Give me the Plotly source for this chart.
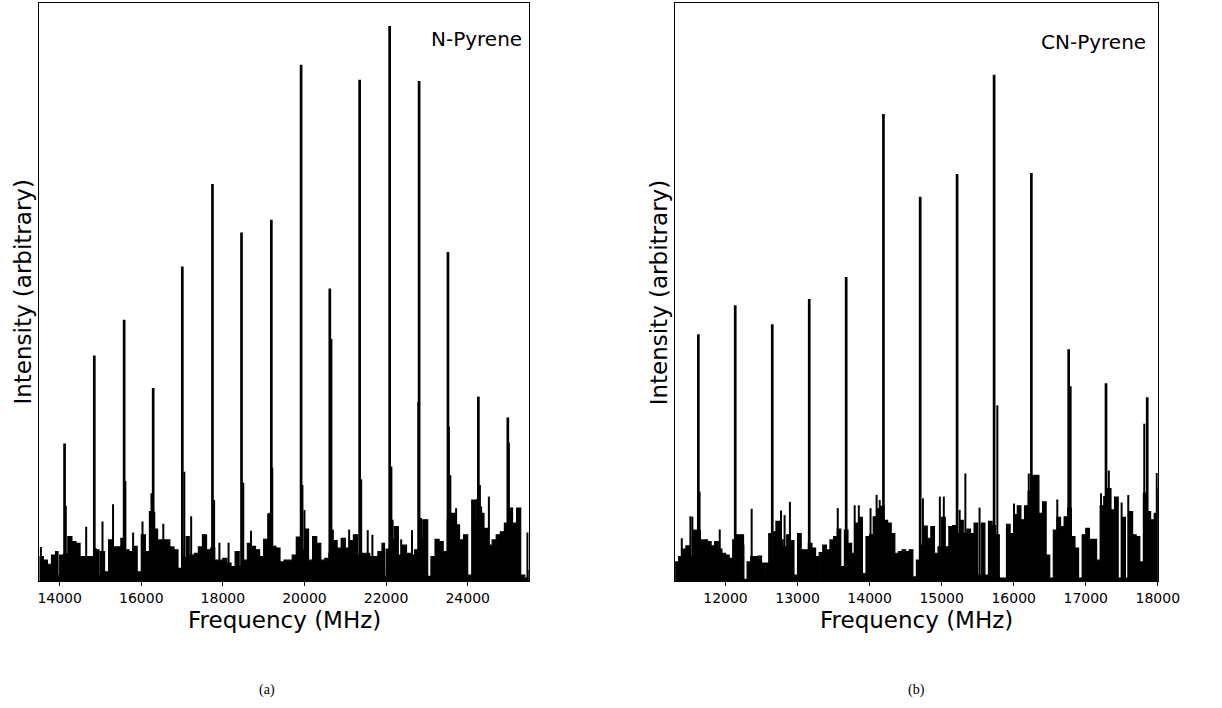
import plotly.graph_objects as go

# ---------------- N-Pyrene (panel a) ----------------
# strong rotational lines: frequency (MHz), intensity (% of axis height)
n_line_freq = [14120, 14849, 15580, 16292, 17006, 17745, 18457, 19188,
               19917, 20621, 21352, 22088, 22810, 23517, 24262, 24984]
n_line_int = [23.8, 39.0, 45.2, 33.4, 54.4, 68.7, 60.3, 62.5,
              89.3, 50.6, 86.7, 96.0, 86.5, 56.9, 31.9, 28.3]

# weaker lines and shoulders
n_minor_freq = [13540, 14150, 14650, 14880, 15050, 15308, 15610, 15800, 16030, 16250,
                16320, 16540, 17055, 17223, 17785, 17915, 18140, 18500, 18690, 19110,
                19150, 19211, 19950, 20000, 20660, 20695, 21095, 21390, 21550, 21665,
                22130, 22160, 22370, 22635, 22790, 22858, 23540, 23575, 23717, 24230,
                24300, 24330, 24520, 25010, 25225, 25465]
n_minor_int = [5.9, 13.0, 9.4, 5.7, 10.3, 13.3, 17.3, 8.4, 10.3, 15.2,
               12.0, 9.9, 18.9, 11.2, 14.0, 6.6, 6.6, 17.0, 8.7, 11.7,
               11.8, 19.6, 16.6, 12.3, 41.9, 8.9, 8.9, 17.6, 8.8, 8.0,
               19.8, 10.6, 7.2, 8.8, 31.0, 10.9, 26.7, 18.3, 12.6, 14.2,
               16.6, 12.9, 14.6, 23.9, 12.6, 8.4]

# dense background of unresolved transitions
n_bg_freq = [13500, 13600, 13700, 13800, 13900, 13960, 14000, 14100, 14200, 14300,
             14400, 14500, 14600, 14700, 14800, 14900, 14965, 15000, 15100, 15200,
             15300, 15400, 15500, 15600, 15700, 15800, 15900, 16000, 16100, 16200,
             16300, 16400, 16500, 16600, 16700, 16800, 16900, 17000, 17100, 17175,
             17200, 17300, 17400, 17500, 17600, 17700, 17800, 17900, 18000, 18100,
             18200, 18300, 18400, 18500, 18600, 18700, 18800, 18900, 19000, 19100,
             19200, 19300, 19400, 19500, 19600, 19700, 19800, 19900, 20000, 20100,
             20200, 20300, 20400, 20500, 20600, 20700, 20800, 20900, 21000, 21100,
             21200, 21300, 21400, 21500, 21600, 21700, 21800, 21900, 21960, 22000,
             22100, 22200, 22300, 22400, 22500, 22600, 22700, 22800, 22900, 23020,
             23100, 23200, 23300, 23400, 23500, 23600, 23700, 23800, 23900, 24000,
             24100, 24200, 24300, 24400, 24500, 24600, 24700, 24800, 24900, 25000,
             25100, 25200, 25300, 25400, 25500]
n_bg_int = [4.2, 3.6, 2.9, 4.5, 5.1, 1.0, 4.5, 4.7, 7.7, 6.8,
            6.5, 4.2, 4.2, 4.2, 4.2, 5.4, 1.0, 5.1, 1.6, 7.1,
            5.9, 5.9, 7.4, 5.4, 5.1, 6.0, 1.6, 8.0, 5.1, 12.0,
            9.0, 7.1, 7.1, 7.1, 5.9, 5.4, 2.2, 4.0, 7.7, 0.8,
            4.5, 4.8, 5.9, 8.0, 5.4, 5.7, 3.6, 3.6, 3.9, 3.1,
            2.5, 5.1, 2.6, 3.6, 6.5, 6.0, 5.4, 4.2, 7.2, 7.0,
            6.0, 5.7, 3.3, 3.6, 3.6, 4.5, 7.6, 5.4, 9.0, 3.6,
            7.7, 6.5, 3.6, 3.9, 4.8, 7.0, 5.7, 7.4, 5.7, 7.0,
            8.0, 4.5, 4.8, 4.8, 4.2, 4.2, 5.1, 6.5, 0.8, 5.5,
            7.1, 9.4, 4.5, 6.2, 4.8, 4.5, 5.4, 7.1, 10.6, 0.8,
            4.2, 7.2, 6.8, 5.1, 10.6, 11.7, 9.7, 7.1, 8.0, 1.0,
            14.0, 10.6, 11.7, 9.1, 6.2, 7.1, 8.0, 8.5, 10.0, 12.6,
            10.0, 12.6, 1.0, 0.5, 1.9]

# ---------------- CN-Pyrene (panel b) ----------------
cn_line_freq = [11623, 12135, 12649, 13162, 13675, 14192, 14702, 15214,
                15728, 16245, 16763, 17281, 17853]
cn_line_int = [42.7, 47.7, 44.4, 48.8, 52.6, 80.8, 66.5, 70.4,
               87.6, 70.6, 40.1, 34.2, 31.8]

cn_minor_freq = [11393, 11513, 11540, 11640, 11920, 12363, 12770, 12820, 12894, 13558,
                 13793, 13850, 14013, 14097, 14140, 14740, 14975, 15030, 15250, 15329,
                 15526, 15773, 16004, 16209, 16280, 16605, 16790, 17212, 17320, 17498,
                 17590, 17812, 17986]
cn_minor_int = [7.4, 11.2, 11.1, 15.5, 8.9, 12.5, 12.2, 11.4, 13.7, 12.6,
                13.1, 13.1, 12.6, 14.9, 14.0, 14.3, 14.6, 14.6, 12.3, 18.6,
                12.7, 30.4, 13.4, 18.6, 18.0, 14.1, 33.7, 15.2, 19.1, 13.6,
                14.9, 27.2, 18.7]

cn_bg_freq = [11300, 11350, 11400, 11450, 11500, 11550, 11600, 11650, 11700, 11750,
              11800, 11850, 11900, 11950, 12000, 12050, 12100, 12150, 12200, 12250,
              12255, 12300, 12350, 12400, 12450, 12500, 12540, 12550, 12600, 12650,
              12700, 12750, 12800, 12850, 12900, 12950, 13000, 13050, 13100, 13150,
              13200, 13250, 13287, 13300, 13350, 13400, 13450, 13500, 13550, 13600,
              13650, 13700, 13750, 13800, 13850, 13900, 13950, 14000, 14050, 14100,
              14150, 14200, 14250, 14300, 14350, 14400, 14450, 14500, 14550, 14600,
              14650, 14700, 14750, 14800, 14850, 14900, 14950, 15000, 15050, 15100,
              15150, 15200, 15250, 15300, 15350, 15400, 15450, 15500, 15550, 15600,
              15650, 15700, 15750, 15800, 15850, 15900, 15950, 16000, 16050, 16100,
              16150, 16200, 16250, 16300, 16350, 16400, 16450, 16500, 16550, 16600,
              16650, 16700, 16750, 16800, 16850, 16900, 16950, 17000, 17050, 17100,
              17150, 17200, 17250, 17300, 17350, 17400, 17450, 17500, 17550, 17600,
              17650, 17700, 17750, 17800, 17850, 17900, 17950, 18000]
cn_bg_int = [3.3, 4.2, 5.5, 6.1, 4.2, 8.8, 8.8, 7.1, 7.1, 6.8,
             6.1, 6.8, 5.5, 4.8, 4.5, 3.9, 7.1, 8.0, 8.0, 6.2,
             0.3, 3.3, 4.2, 4.2, 4.3, 3.1, 0.3, 3.1, 8.2, 8.5,
             10.3, 7.1, 5.9, 8.0, 7.0, 1.0, 8.2, 5.4, 5.4, 6.5,
             5.7, 4.2, 0.3, 4.9, 6.2, 5.4, 7.1, 7.7, 9.0, 2.5,
             8.8, 6.5, 4.8, 10.0, 11.0, 1.3, 7.7, 8.0, 11.1, 12.5,
             12.9, 10.5, 10.0, 8.2, 4.8, 5.1, 5.4, 5.1, 5.4, 0.7,
             3.6, 6.2, 9.5, 7.4, 9.4, 4.8, 5.9, 11.0, 5.9, 9.4,
             9.6, 8.2, 10.5, 8.2, 9.0, 8.2, 10.0, 1.0, 10.0, 1.0,
             10.3, 9.6, 8.0, 0.5, 0.5, 9.8, 8.2, 11.5, 13.0, 10.6,
             13.0, 15.5, 18.3, 18.3, 11.7, 13.7, 4.5, 0.5, 8.8, 11.0,
             9.4, 11.1, 12.6, 7.7, 5.7, 0.5, 8.0, 9.1, 7.2, 7.2,
             3.6, 13.0, 14.6, 16.0, 12.3, 14.5, 0.5, 11.0, 0.5, 12.0,
             8.0, 7.7, 3.3, 15.2, 12.0, 10.6, 11.7, 16.0]


def sticks(freq, inten):
    """Vertical stick segments from zero up to each line intensity."""
    xs, ys = [], []
    for f, v in zip(freq, inten):
        xs += [f, f, None]
        ys += [0, v, None]
    return xs, ys


fig = go.Figure()

panels = [
    ("x", "y", n_bg_freq, n_bg_int, n_minor_freq, n_minor_int, n_line_freq, n_line_int),
    ("x2", "y2", cn_bg_freq, cn_bg_int, cn_minor_freq, cn_minor_int, cn_line_freq, cn_line_int),
]
for xa, ya, bgf, bgi, mf, mi, lf, li in panels:
    fig.add_trace(go.Scatter(x=bgf, y=bgi, mode="lines", fill="tozeroy", line_shape="hv",
                             fillcolor="black", line=dict(color="black", width=1.2),
                             xaxis=xa, yaxis=ya, showlegend=False, hoverinfo="skip"))
    sx, sy = sticks(mf, mi)
    fig.add_trace(go.Scatter(x=sx, y=sy, mode="lines",
                             line=dict(color="black", width=2),
                             xaxis=xa, yaxis=ya, showlegend=False, hoverinfo="skip"))
    sx, sy = sticks(lf, li)
    fig.add_trace(go.Scatter(x=sx, y=sy, mode="lines",
                             line=dict(color="black", width=2.7),
                             xaxis=xa, yaxis=ya, showlegend=False, hoverinfo="skip"))

W, H = 1222, 708
ydom = [1 - 581 / H, 1 - 3 / H]
tickfont = dict(family="DejaVu Sans", size=14, color="black")
frame = dict(showline=True, linecolor="black", linewidth=1, mirror=True,
             showgrid=False, zeroline=False)
xtick = dict(ticks="outside", ticklen=4, tickwidth=1, tickcolor="black", tickfont=tickfont)

fig.update_layout(
    width=W, height=H, autosize=False,
    margin=dict(l=0, r=0, t=0, b=0),
    paper_bgcolor="white", plot_bgcolor="white",
    xaxis=dict(domain=[39 / W, 538 / W], range=[13500, 25500],
               tickvals=[14000, 16000, 18000, 20000, 22000, 24000],
               ticktext=["14000", "16000", "18000", "20000", "22000", "24000"],
               anchor="y", **frame, **xtick),
    yaxis=dict(domain=ydom, range=[0, 100], showticklabels=False, ticks="",
               anchor="x", **frame),
    xaxis2=dict(domain=[687 / W, 1179 / W], range=[11300, 18000],
                tickvals=[12000, 13000, 14000, 15000, 16000, 17000, 18000],
                ticktext=["12000", "13000", "14000", "15000", "16000", "17000", "18000"],
                anchor="y2", **frame, **xtick),
    yaxis2=dict(domain=ydom, range=[0, 100], showticklabels=False, ticks="",
                anchor="x2", **frame),
)

label_font = dict(family="DejaVu Sans", size=23, color="black")
name_font = dict(family="DejaVu Sans", size=20, color="black")
cap_font = dict(family="Liberation Serif", size=14, color="black")

annots = [
    dict(text="Frequency (MHz)", x=288.5 / W, y=1 - 620 / H, font=label_font),
    dict(text="Frequency (MHz)", x=933 / W, y=1 - 620 / H, font=label_font),
    dict(text="Intensity (arbitrary)", x=22 / W, y=1 - 292 / H, font=label_font, textangle=-90),
    dict(text="Intensity (arbitrary)", x=671 / W, y=1 - 292 / H, font=label_font, textangle=-90),
    dict(text="N-Pyrene", x=533 / W, y=1 - 39 / H, font=name_font, xanchor="right"),
    dict(text="CN-Pyrene", x=1169 / W, y=1 - 42 / H, font=name_font, xanchor="right"),
    dict(text="(a)", x=271 / W, y=1 - 690 / H, font=cap_font),
    dict(text="(b)", x=933 / W, y=1 - 690 / H, font=cap_font),
]
for a in annots:
    base = dict(xref="paper", yref="paper", showarrow=False,
                xanchor="center", yanchor="middle")
    base.update(a)
    fig.add_annotation(**base)

fig.write_html("out.html", config={"displayModeBar": False})
